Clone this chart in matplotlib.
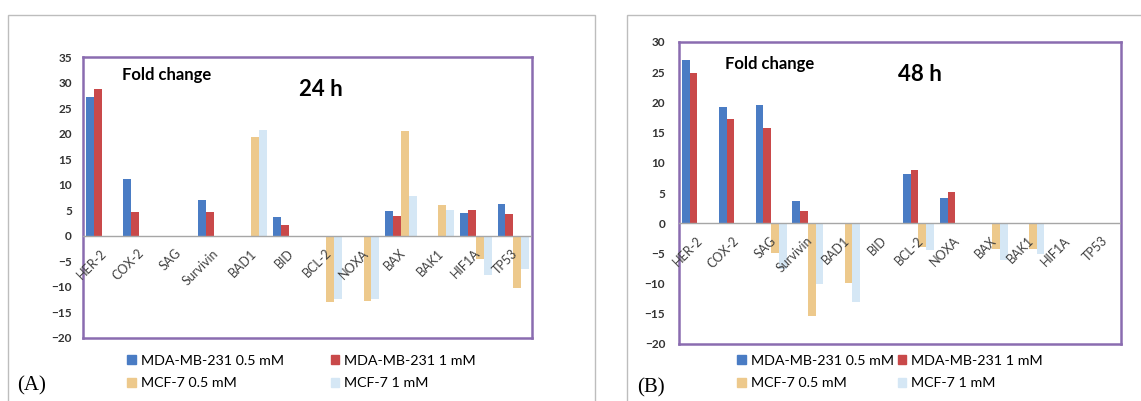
import numpy as np
import matplotlib
matplotlib.use("Agg")
import matplotlib.pyplot as plt
from matplotlib.patches import Rectangle, Patch

plt.rcParams["font.family"] = ["Lato", "DejaVu Sans"]

# ---------- data (fold change) ----------
genes = ["HER-2", "COX-2", "SAG", "Survivin", "BAD1", "BID",
         "BCL-2", "NOXA", "BAX", "BAK1", "HIF1A", "TP53"]
series_names = ["MDA-MB-231 0.5 mM", "MDA-MB-231 1 mM", "MCF-7 0.5 mM", "MCF-7 1 mM"]

# 24 h
mda05_24 = [27.2, 11.1, 0, 7.0, 0, 3.6, 0, 0, 4.8, 0, 4.5, 6.2]
mda1_24 = [28.7, 4.7, 0, 4.7, 0, 2.2, 0, 0, 3.9, 0, 5.1, 4.3]
mcf05_24 = [0, 0, 0, 0, 19.3, 0, -12.9, -12.7, 20.5, 6.0, -4.5, -10.3]
mcf1_24 = [0, 0, 0, 0, 20.8, 0, -12.3, -12.3, 7.8, 5.0, -7.7, -6.4]

# 48 h
mda05_48 = [27.1, 19.2, 19.5, 3.7, 0, 0, 8.1, 4.1, 0, 0, 0, 0]
mda1_48 = [24.9, 17.2, 15.7, 2.1, 0, 0, 8.8, 5.1, 0, 0, 0, 0]
mcf05_48 = [0, 0, -4.9, -15.4, -9.9, 0, -4.0, 0, -4.3, -4.3, 0, 0]
mcf1_48 = [0, 0, -7.5, -10.0, -13.1, 0, -4.4, 0, -6.1, -5.1, 0, 0]

colors = ["#4a7cc4", "#c9494a", "#edc98c", "#d5e7f5"]
purple = "#8a6cb0"


def draw_panel(fig, rect, data, ylim, label, tag, col_gap, leg_xy, tag_xy,
               fold_xy, time_xy, tick_pad):
    ax = fig.add_axes(rect)
    x = np.arange(len(genes))
    w = 0.21
    for k, vals in enumerate(data):
        ax.bar(x + (k - 1.5) * w, vals, width=w, color=colors[k],
               edgecolor="none", zorder=2)
    ax.axhline(0, color="#a6a6a6", lw=1.0, zorder=3)
    ax.set_xlim(-0.5, len(genes) - 0.5)
    ax.set_ylim(*ylim)
    ax.set_yticks(np.arange(ylim[0], ylim[1] + 1, 5))
    ax.set_xticks([])
    ax.tick_params(axis="y", length=0, pad=tick_pad, labelsize=8.5,
                   labelcolor="#333333")
    for t in ax.get_yticklabels():
        t.set_fontweight("bold")
    for s in ax.spines.values():
        s.set_color(purple)
        s.set_linewidth(1.8)

    # category labels sit on the zero line, slanted like Excel's
    for i, g in enumerate(genes):
        ax.annotate(g, xy=(i, 0), xycoords="data", xytext=(-1, -8),
                    textcoords="offset points", rotation=45, ha="right",
                    va="top", rotation_mode="anchor", fontsize=9,
                    color="#404040")

    ax.text(fold_xy[0], fold_xy[1], "Fold change", transform=ax.transAxes,
            fontsize=12, fontweight="bold", va="center", ha="left")
    ax.text(time_xy[0], time_xy[1], label, transform=ax.transAxes,
            fontsize=16, fontweight="bold", va="center", ha="left")

    handles = [Patch(color=c) for c in colors]
    order = [0, 2, 1, 3]
    ax.legend([handles[i] for i in order], [series_names[i] for i in order],
              ncol=2, loc="upper left", bbox_to_anchor=leg_xy,
              bbox_transform=fig.transFigure, frameon=False, fontsize=10.3,
              handlelength=0.6, handleheight=0.6, handletextpad=0.35,
              columnspacing=col_gap, labelspacing=0.72, borderpad=0,
              borderaxespad=0)

    fig.text(tag_xy[0], tag_xy[1], tag, family="Liberation Serif",
             fontsize=15, va="center", ha="left")
    return ax


W, H = 1141, 401
fig = plt.figure(figsize=(W / 100, H / 100), dpi=100)

# outer panel frames
fig.add_artist(Rectangle((8 / W, -0.1), 587 / W, 1.1 - 15 / H,
                         transform=fig.transFigure, fill=False,
                         edgecolor="#bdbdbd", lw=1.0))
fig.add_artist(Rectangle((627 / W, -0.1), 0.5, 1.1 - 15 / H,
                         transform=fig.transFigure, fill=False,
                         edgecolor="#bdbdbd", lw=1.0))

draw_panel(fig, [83 / W, 1 - 338 / H, 449 / W, 281 / H],
           [mda05_24, mda1_24, mcf05_24, mcf1_24], (-20, 35), "24 h", "(A)",
           col_gap=3.3, leg_xy=(127 / W, 1 - 355 / H),
           tag_xy=(17 / W, 1 - 386 / H),
           fold_xy=(0.087, 0.936), time_xy=(0.481, 0.883), tick_pad=8)

draw_panel(fig, [679 / W, 1 - 344 / H, 442 / W, 302 / H],
           [mda05_48, mda1_48, mcf05_48, mcf1_48], (-20, 30), "48 h", "(B)",
           col_gap=0.3, leg_xy=(737 / W, 1 - 355 / H),
           tag_xy=(637 / W, 1 - 388 / H),
           fold_xy=(0.104, 0.927), time_xy=(0.495, 0.894), tick_pad=10)

fig.savefig("out.png", dpi=100)
